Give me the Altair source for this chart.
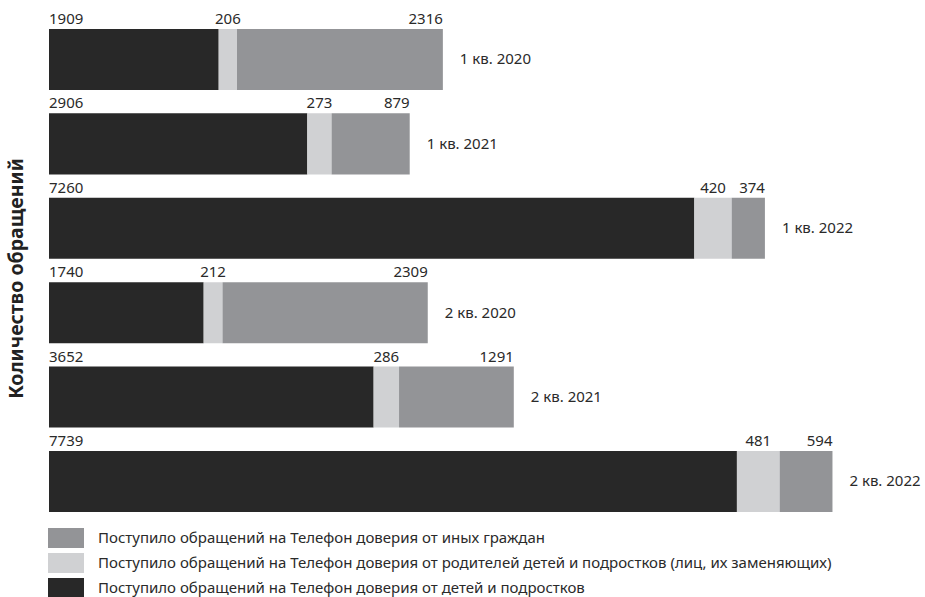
import altair as alt
import pandas as pd

quarters = ["1 кв. 2020", "1 кв. 2021", "1 кв. 2022", "2 кв. 2020", "2 кв. 2021", "2 кв. 2022"]
children = [1909, 2906, 7260, 1740, 3652, 7739]
parents = [206, 273, 420, 212, 286, 481]
others = [2316, 879, 374, 2309, 1291, 594]

s_child = "Поступило обращений на Телефон доверия от детей и подростков"
s_par = "Поступило обращений на Телефон доверия от родителей детей и подростков (лиц, их заменяющих)"
s_oth = "Поступило обращений на Телефон доверия от иных граждан"

rows = []
for q, c, p, o in zip(quarters, children, parents, others):
    rows.append(dict(q=q, series=s_child, kind="c", v=c, start=0, end=c, lx=0, total=c + p + o))
    rows.append(dict(q=q, series=s_par, kind="p", v=p, start=c, end=c + p, lx=c + p / 2, total=c + p + o))
    rows.append(dict(q=q, series=s_oth, kind="o", v=o, start=c + p, end=c + p + o, lx=c + p + o, total=c + p + o))
df = pd.DataFrame(rows)

FONT = "Noto Sans"
TXT = "#2a2a2a"

xs = alt.Scale(domain=[0, 9000], nice=False, zero=True)
ys = alt.Scale(domain=quarters, paddingInner=0.277, paddingOuter=0.142, align=1)

color = alt.Color(
    "series:N",
    scale=alt.Scale(domain=[s_oth, s_par, s_child], range=["#939497", "#d0d1d3", "#282828"]),
    legend=alt.Legend(
        title=None, orient="none", legendX=7, legendY=523, direction="vertical",
        symbolType="M-1.8,-1H1.8V1H-1.8Z", symbolSize=400, symbolStrokeWidth=0, symbolOpacity=1,
        labelFont=FONT, labelFontSize=15, labelColor=TXT, labelLimit=0, labelOffset=22,
        rowPadding=5,
    ),
)

base = alt.Chart(df)

bars = base.mark_bar(cornerRadius=0).encode(
    x=alt.X("start:Q", scale=xs, axis=None),
    x2="end:Q",
    y=alt.Y("q:N", scale=ys, sort=quarters,
            axis=alt.Axis(labels=False, ticks=False, domain=False, title="Количество обращений",
                          titleFont=FONT, titleFontSize=19.5, titleFontWeight="bold", titleColor="#222222",
                          titleX=-33, titleY=273, titleBaseline="middle", titleAngle=-90)),
    color=color,
)

def lab(kind, align):
    return base.transform_filter(alt.datum.kind == kind).mark_text(
        align=align, baseline="alphabetic", dy=-5, font=FONT, fontSize=15, color=TXT
    ).encode(
        x=alt.X("lx:Q", scale=xs),
        y=alt.Y("q:N", scale=ys, sort=quarters, bandPosition=0),
        text="v:Q",
    )

cat = base.transform_filter(alt.datum.kind == "o").mark_text(
    align="left", baseline="middle", dx=17, font=FONT, fontSize=15, color=TXT
).encode(
    x=alt.X("total:Q", scale=xs),
    y=alt.Y("q:N", scale=ys, sort=quarters),
    text="q:N",
)

chart = alt.layer(bars, lab("c", "left"), lab("p", "center"), lab("o", "right"), cat).properties(
    width=800, height=507,
    autosize=alt.AutoSizeParams(type="none"),
    padding={"left": 49, "top": 5, "right": 76, "bottom": 85},
    background="white",
).configure_view(stroke=None)

chart.save("out.html", embed_options={"renderer": "svg", "actions": False})
